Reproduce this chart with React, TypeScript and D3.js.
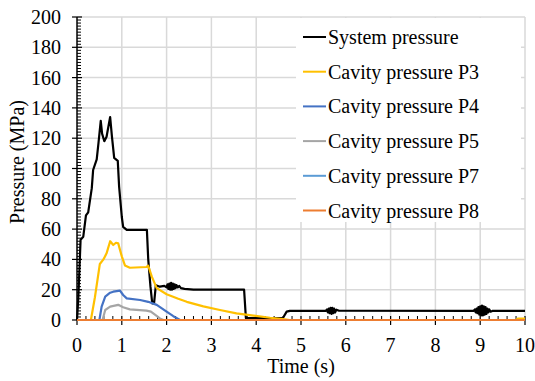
import * as d3 from 'd3';

// [time (s), pressure (MPa)]
const systemPressure: [number, number][] = [
  [0, 0], [0.03, 15], [0.08, 53], [0.14, 55], [0.2, 69], [0.25, 71], [0.33, 87], [0.36, 99],
  [0.44, 106], [0.48, 117], [0.53, 131.5], [0.56, 123], [0.61, 118], [0.66, 121], [0.74, 134],
  [0.78, 121], [0.83, 107], [0.91, 105], [0.94, 88], [1.0, 68], [1.03, 61.5], [1.11, 59.5],
  [1.56, 59.5], [1.59, 40], [1.64, 22], [1.68, 11], [1.72, 11], [1.76, 23], [1.85, 22],
  [1.95, 22.5], [2.0, 21.5], [2.02, 23.5], [2.04, 20.5], [2.06, 24], [2.08, 20], [2.1, 24.5],
  [2.12, 20], [2.14, 24], [2.16, 20.5], [2.18, 23.5], [2.2, 21], [2.22, 23], [2.25, 21.5],
  [2.28, 22.5], [2.32, 21], [2.4, 20.5], [2.6, 20], [3.73, 20],
  [3.77, 1.2], [4.6, 1.5], [4.68, 5.5], [4.75, 6], [5.55, 6], [5.58, 7], [5.6, 5], [5.62, 7.5],
  [5.64, 4.5], [5.66, 8], [5.68, 4], [5.7, 8], [5.72, 4.5], [5.74, 7.5], [5.76, 5], [5.79, 6.8],
  [5.85, 6.1], [8.85, 6], [8.88, 7], [8.9, 5], [8.92, 7.5], [8.94, 4.5], [8.96, 8.5],
  [8.98, 3.5], [9.0, 9], [9.02, 3], [9.04, 9.5], [9.06, 3], [9.08, 9], [9.1, 3.5], [9.12, 8.5],
  [9.14, 4], [9.16, 7.5], [9.18, 5], [9.2, 7], [9.23, 5.5], [9.27, 6], [10, 6],
];
const cavityP3: [number, number][] = [
  [0, 0], [0.31, 0], [0.4, 15], [0.51, 37], [0.59, 40], [0.66, 44], [0.74, 52], [0.81, 49.5],
  [0.87, 51], [0.92, 50.6], [1.0, 42], [1.07, 36], [1.18, 34.5], [1.55, 35], [1.59, 35.8],
  [1.67, 28.6], [1.78, 21], [2.0, 17], [2.26, 14], [2.45, 12], [2.82, 9], [3.19, 6.6],
  [3.56, 4.4], [3.94, 2.9], [4.31, 1.5], [4.6, 0.6], [4.75, 0], [9.8, 0], [9.85, 1], [10, 1],
];
const cavityP4: [number, number][] = [
  [0, 0], [0.5, 0], [0.55, 8.8], [0.63, 15.4], [0.74, 18], [0.81, 18.7], [0.96, 19.4],
  [1.03, 16.5], [1.11, 14.3], [1.41, 13.2], [1.59, 12], [1.78, 10], [2.0, 5.5], [2.15, 2.5],
  [2.3, 0], [10, 0],
];
const cavityP5: [number, number][] = [
  [0, 0], [0.57, 0], [0.63, 6.6], [0.74, 8.8], [0.92, 10], [1.03, 8.4], [1.18, 7], [1.55, 6.2],
  [1.65, 5.5], [1.74, 3.5], [1.85, 1], [1.93, 0], [10, 0],
];
const cavityP7: [number, number][] = [[0, 0], [10, 0]];
const cavityP8: [number, number][] = [[0, 0], [10, 0]];

const seriesNames = [
  'System pressure',
  'Cavity pressure P3',
  'Cavity pressure P4',
  'Cavity pressure P5',
  'Cavity pressure P7',
  'Cavity pressure P8',
];
const seriesData = [systemPressure, cavityP3, cavityP4, cavityP5, cavityP7, cavityP8];
const seriesColors = ['#000000', '#FFC000', '#4472C4', '#A5A5A5', '#5B9BD5', '#ED7D31'];

const xTicks = [0, 1, 2, 3, 4, 5, 6, 7, 8, 9, 10];
const yTicks = [0, 20, 40, 60, 80, 100, 120, 140, 160, 180, 200];

export default function App() {
  const width = 535;
  const height = 381;
  const margin = { top: 17, right: 10, bottom: 61, left: 77 };
  const font = '"Liberation Serif", "Times New Roman", serif';

  const x = d3.scaleLinear().domain([0, 10]).range([margin.left, width - margin.right]);
  const y = d3.scaleLinear().domain([0, 200]).range([height - margin.bottom, margin.top]);

  const line = d3
    .line<[number, number]>()
    .x((d) => x(d[0]))
    .y((d) => y(d[1]));

  const xMinor = d3.range(0, 10.001, 0.2).filter((v) => Math.abs(v - Math.round(v)) > 0.01);
  const yMinor = d3.range(0, 200.001, 2).filter((v) => v % 20 !== 0);

  const x0 = x(0);
  const y0 = y(0);

  return (
    <svg
      width={width}
      height={height}
      style={{ position: 'absolute', left: 0, top: 0, background: '#fff' }}
      fontFamily={font}
    >
      {/* grid */}
      {xTicks.slice(1).map((t) => (
        <line key={'gx' + t} x1={x(t)} x2={x(t)} y1={y(0)} y2={y(200)} stroke="#d9d9d9" strokeWidth={1.5} />
      ))}
      {yTicks.slice(1).map((t) => (
        <line key={'gy' + t} x1={x(0)} x2={x(10)} y1={y(t)} y2={y(t)} stroke="#d9d9d9" strokeWidth={1.5} />
      ))}

      {/* legend background hides grid */}
      <rect x={296} y={18} width={225} height={204} fill="#fff" />

      {/* axes */}
      <line x1={x0} x2={x0} y1={y(200)} y2={y0} stroke="#000" strokeWidth={1.5} />
      <line x1={x0} x2={x(10)} y1={y0} y2={y0} stroke="#000" strokeWidth={1.5} />
      {yTicks.map((t) => (
        <line key={'yt' + t} x1={x0 - 5} x2={x0 + 5} y1={y(t)} y2={y(t)} stroke="#000" strokeWidth={1.2} />
      ))}
      {yMinor.map((t) => (
        <line key={'ym' + t} x1={x0} x2={x0 + 4} y1={y(t)} y2={y(t)} stroke="#000" strokeWidth={1} />
      ))}
      {xTicks.map((t) => (
        <line key={'xt' + t} x1={x(t)} x2={x(t)} y1={y0 - 4} y2={y0 + 5} stroke="#000" strokeWidth={1.2} />
      ))}
      {xMinor.map((t) => (
        <line key={'xm' + t} x1={x(t)} x2={x(t)} y1={y0 - 4} y2={y0} stroke="#000" strokeWidth={1} />
      ))}

      {/* tick labels */}
      {yTicks.map((t) => (
        <text key={'yl' + t} x={61} y={y(t)} dy="0.35em" textAnchor="end" fontSize={20} fill="#000">
          {t}
        </text>
      ))}
      {xTicks.map((t) => (
        <text key={'xl' + t} x={x(t)} y={352} textAnchor="middle" fontSize={20} fill="#000">
          {t}
        </text>
      ))}

      {/* axis titles */}
      <text x={(x(0) + x(10)) / 2} y={373} textAnchor="middle" fontSize={20} fill="#000">
        Time (s)
      </text>
      <text
        transform={`translate(17,162) rotate(-90)`}
        textAnchor="middle"
        dy="0.35em"
        fontSize={20}
        fill="#000"
      >
        Pressure (MPa)
      </text>

      {/* series */}
      {seriesData.map((d, i) => (
        <path
          key={'s' + i}
          d={line(d) || ''}
          fill="none"
          stroke={seriesColors[i]}
          strokeWidth={2.2}
          strokeLinejoin="round"
        />
      ))}

      {/* legend */}
      {seriesNames.map((name, i) => {
        const ly = 37 + i * 34.7;
        return (
          <g key={'lg' + i}>
            <line x1={303} x2={326} y1={ly} y2={ly} stroke={seriesColors[i]} strokeWidth={2} />
            <text x={328} y={ly} dy="0.35em" fontSize={20} fill="#000">
              {name}
            </text>
          </g>
        );
      })}
    </svg>
  );
}
